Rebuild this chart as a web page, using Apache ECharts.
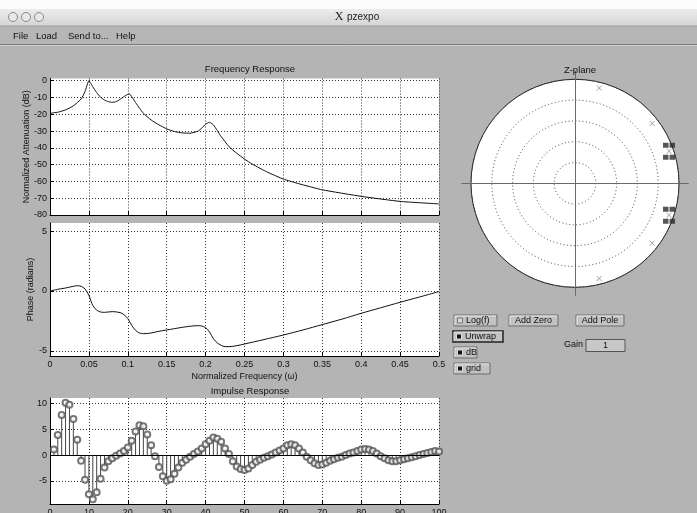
<!DOCTYPE html>
<html><head><meta charset="utf-8">
<script src="https://cdn.jsdelivr.net/npm/echarts@6/dist/echarts.min.js"></script>
<style>html,body{margin:0;padding:0;background:#b4b4b4}#c{width:697px;height:513px}</style>
</head><body><div id="c"></div>
<script>
// ---------- data ----------
const freqF = [0,0.01,0.02,0.03,0.04,0.045,0.05,0.055,0.06,0.065,0.07,0.075,0.08,0.085,0.09,0.095,0.1,0.102,0.105,0.11,0.115,0.12,0.13,0.14,0.15,0.16,0.17,0.18,0.19,0.195,0.2,0.205,0.21,0.215,0.22,0.23,0.24,0.25,0.26,0.28,0.3,0.32,0.35,0.4,0.45,0.5];
const magDb = [-19.4,-18.8,-17.4,-15,-10.9,-6.5,0,-3.6,-7.1,-9.9,-11.5,-12.5,-12.9,-12.5,-11.1,-9.5,-8.1,-7.8,-9.5,-13,-16.4,-19.4,-23.4,-26.3,-28.7,-30.3,-31.1,-31.3,-30.1,-28.3,-25.9,-24.8,-26.3,-29.7,-33.3,-39.2,-43.2,-46.7,-49.7,-54.6,-58.6,-61.4,-65,-68.9,-71.9,-73.4];
const phaseF = [0,0.01,0.02,0.03,0.035,0.04,0.045,0.05,0.053,0.055,0.06,0.065,0.07,0.08,0.09,0.095,0.1,0.105,0.11,0.115,0.12,0.13,0.14,0.15,0.16,0.17,0.18,0.19,0.195,0.2,0.205,0.21,0.215,0.22,0.225,0.23,0.24,0.25,0.275,0.3,0.325,0.35,0.375,0.4,0.425,0.45,0.475,0.5];
const phaseRad = [0,0.14,0.25,0.39,0.44,0.39,0.17,-0.36,-0.9,-1.2,-1.6,-1.75,-1.78,-1.72,-1.8,-1.97,-2.3,-2.86,-3.28,-3.5,-3.56,-3.5,-3.36,-3.25,-3.14,-3.03,-2.94,-2.89,-2.92,-3.06,-3.42,-3.97,-4.33,-4.53,-4.64,-4.64,-4.56,-4.42,-4.05,-3.67,-3.25,-2.8,-2.35,-1.86,-1.4,-0.94,-0.5,-0.05];
const impulseStart = 1;
const impulseVals = [1.1,3.9,7.8,10.2,9.8,7.0,3.0,-1.1,-4.8,-7.6,-8.6,-7.2,-4.6,-2.4,-1.2,-0.6,-0.1,0.3,0.8,1.5,2.8,4.6,5.8,5.6,4.0,1.9,-0.2,-2.3,-4.1,-5.0,-4.7,-3.6,-2.4,-1.5,-0.9,-0.3,0.2,0.7,1.3,2.1,2.8,3.4,3.2,2.6,1.3,0.2,-1.2,-2.2,-2.7,-2.9,-2.6,-1.9,-1.3,-0.9,-0.5,-0.2,0.1,0.5,0.9,1.3,1.9,2.1,1.9,1.3,0.5,-0.3,-1.0,-1.6,-1.9,-1.8,-1.5,-1.1,-0.8,-0.5,-0.3,0.0,0.3,0.5,0.8,1.1,1.2,1.1,0.8,0.3,-0.2,-0.6,-1.0,-1.2,-1.2,-1.0,-0.8,-0.6,-0.4,-0.2,0.0,0.2,0.4,0.6,0.8,0.7];
const poleRadius = [0.955,0.94,0.945,0.955,0.94,0.945];
const poleAngle = [18.8,37.8,75.7,-18.8,-37.8,-75.7];
const selectedRadius = [0.955,0.955];
const selectedAngle = [18.8,-18.8];
const freqTicks = [0,0.05,0.1,0.15,0.2,0.25,0.3,0.35,0.4,0.45,0.5];
const magTicks = [-80,-70,-60,-50,-40,-30,-20,-10,0];
const phaseTicks = [-5,0,5];
const impXTicks = [0,10,20,30,40,50,60,70,80,90,100];
const impYTicks = [-5,0,5,10];

// ---------- styles ----------
const FONT = 'Liberation Sans';
const txt = {fontFamily: FONT, fontSize: 9, color: '#111'};
const dotted = {color: '#333', type: [1, 2], width: 1};

function xAx(grid, min, max, ticks, showLabels, extra) {
  return Object.assign({
    type: 'value', gridIndex: grid, min: min, max: max,
    axisLine: {show: true, onZero: false, lineStyle: {color: '#000', width: 1}},
    axisTick: {show: true, inside: true, length: 4, customValues: ticks, lineStyle: {color: '#000'}},
    axisLabel: {show: showLabels, customValues: ticks, margin: 4, fontFamily: FONT, fontSize: 9, color: '#111'},
    splitLine: {show: true, lineStyle: dotted}
  }, extra || {});
}
function yAx(grid, min, max, ticks, extra) {
  return Object.assign({
    type: 'value', gridIndex: grid, min: min, max: max,
    axisLine: {show: true, onZero: false, lineStyle: {color: '#000', width: 1}},
    axisTick: {show: true, inside: true, length: 4, customValues: ticks, lineStyle: {color: '#000'}},
    axisLabel: {show: true, customValues: ticks, margin: 3, fontFamily: FONT, fontSize: 9, color: '#111'},
    splitLine: {show: true, lineStyle: dotted}
  }, extra || {});
}

function button(x, y, w, h, label, opts) {
  opts = opts || {};
  const ch = [
    {type: 'rect', shape: {x: x, y: y, width: w, height: h}, style: {fill: '#c2c2c2', stroke: opts.focus ? '#222' : '#6c6c6c', lineWidth: opts.focus ? 1.5 : 1}},
    {type: 'polyline', shape: {points: [[x + 1, y + h - 1], [x + 1, y + 1], [x + w - 1, y + 1]]}, style: {stroke: '#e6e6e6', lineWidth: 1, fill: null}}
  ];
  let tx = x + w / 2, align = 'center';
  if (opts.check !== undefined) {
    ch.push({type: 'rect', shape: {x: x + 3.5, y: y + h / 2 - 2.5, width: 5, height: 5},
      style: {fill: opts.check ? '#111' : '#d8d8d8', stroke: opts.check ? '#e0e0e0' : '#777', lineWidth: 1}});
    tx = x + 12; align = 'left';
  }
  ch.push({type: 'text', style: {x: tx, y: y + h / 2, text: label, align: align, verticalAlign: 'middle', fontFamily: FONT, fontSize: 9, fill: '#111'}});
  return {type: 'group', children: ch};
}

const graphics = [
  {type: 'rect', shape: {x: 0, y: 0, width: 697, height: 9}, style: {fill: '#fbfbfb'}, z: -10},
  {type: 'rect', shape: {x: 0, y: 9, width: 697, height: 17}, style: {fill: new echarts.graphic.LinearGradient(0, 0, 0, 1, [{offset: 0, color: '#ececec'}, {offset: 1, color: '#d4d4d4'}])}, z: -10},
  {type: 'rect', shape: {x: 0, y: 26, width: 697, height: 18}, style: {fill: '#b6b6b6'}, z: -10},
  {type: 'line', shape: {x1: 0, y1: 26, x2: 697, y2: 26}, style: {stroke: '#9a9a9a', lineWidth: 1}},
  {type: 'line', shape: {x1: 0, y1: 44.5, x2: 697, y2: 44.5}, style: {stroke: '#7c7c7c', lineWidth: 1}},
  {type: 'line', shape: {x1: 0, y1: 45.5, x2: 697, y2: 45.5}, style: {stroke: '#cfcfcf', lineWidth: 1}},
  {type: 'circle', shape: {cx: 13, cy: 17, r: 4.5}, style: {fill: '#e8e8e8', stroke: '#8a8a8a', lineWidth: 1}},
  {type: 'circle', shape: {cx: 26, cy: 17, r: 4.5}, style: {fill: '#e8e8e8', stroke: '#8a8a8a', lineWidth: 1}},
  {type: 'circle', shape: {cx: 39, cy: 17, r: 4.5}, style: {fill: '#e8e8e8', stroke: '#8a8a8a', lineWidth: 1}},
  {type: 'text', style: {x: 339, y: 17, text: 'X', align: 'center', verticalAlign: 'middle', fontFamily: 'Liberation Serif', fontSize: 12, fill: '#222'}},
  {type: 'text', style: {x: 347, y: 17, text: 'pzexpo', align: 'left', verticalAlign: 'middle', fontFamily: FONT, fontSize: 10, fill: '#222'}},
  {type: 'text', style: {x: 13, y: 36, text: 'File', verticalAlign: 'middle', fontFamily: FONT, fontSize: 9.5, fill: '#111'}},
  {type: 'text', style: {x: 36, y: 36, text: 'Load', verticalAlign: 'middle', fontFamily: FONT, fontSize: 9.5, fill: '#111'}},
  {type: 'text', style: {x: 68, y: 36, text: 'Send to...', verticalAlign: 'middle', fontFamily: FONT, fontSize: 9.5, fill: '#111'}},
  {type: 'text', style: {x: 116, y: 36, text: 'Help', verticalAlign: 'middle', fontFamily: FONT, fontSize: 9.5, fill: '#111'}},
  button(454, 315, 43, 11, 'Log(f)', {check: false}),
  button(509, 315, 49, 11, 'Add Zero'),
  button(576, 315, 48, 11, 'Add Pole'),
  button(453, 331, 50, 11, 'Unwrap', {check: true, focus: true}),
  button(454, 347, 23, 11, 'dB', {check: true}),
  button(454, 363, 36, 11, 'grid', {check: true}),
  {type: 'text', style: {x: 564, y: 345, text: 'Gain', verticalAlign: 'middle', fontFamily: FONT, fontSize: 9, fill: '#111'}},
  {type: 'rect', shape: {x: 586, y: 339.5, width: 39, height: 12}, style: {fill: '#c8c8c8', stroke: '#555', lineWidth: 1}},
  {type: 'text', style: {x: 605.5, y: 345.5, text: '1', align: 'center', verticalAlign: 'middle', fontFamily: FONT, fontSize: 9, fill: '#111'}}
];

const chart = echarts.init(document.getElementById('c'), null, {renderer: 'canvas'});
const option = {
  backgroundColor: '#b4b4b4',
  animation: false,
  textStyle: {fontFamily: FONT},
  title: [
    {text: 'Frequency Response', left: 245, top: 59, textAlign: 'center', textStyle: Object.assign({fontWeight: 'normal'}, txt, {fontSize: 9.5})},
    {text: 'Impulse Response', left: 245, top: 381, textAlign: 'center', textStyle: Object.assign({fontWeight: 'normal'}, txt, {fontSize: 9.5})},
    {text: 'Z-plane', left: 575, top: 60, textAlign: 'center', textStyle: Object.assign({fontWeight: 'normal'}, txt, {fontSize: 9.5})}
  ],
  grid: [
    {left: 50, top: 78.5, width: 389, height: 136.5, backgroundColor: '#fff', show: true, borderWidth: 0, outerBoundsMode: 'none', containLabel: false},
    {left: 50, top: 223, width: 389, height: 133, backgroundColor: '#fff', show: true, borderWidth: 0, outerBoundsMode: 'none', containLabel: false},
    {left: 50, top: 398, width: 389, height: 106, backgroundColor: '#fff', show: true, borderWidth: 0, outerBoundsMode: 'none', containLabel: false},
    {left: 461.7, top: 71.3, width: 226.6, height: 224, show: false, outerBoundsMode: 'none', containLabel: false}
  ],
  polar: {center: [575, 183.3], radius: 104},
  angleAxis: {type: 'value', min: 0, max: 360, interval: 90, startAngle: 0, clockwise: false, z: 1,
    axisLine: {show: true, lineStyle: {color: '#222', width: 1}}, axisTick: {show: false}, axisLabel: {show: false}, splitLine: {show: false},
    splitArea: {show: true, areaStyle: {color: ['#ffffff']}}},
  radiusAxis: {type: 'value', min: 0, max: 1, interval: 0.2, z: 2,
    axisLine: {show: false}, axisTick: {show: false}, axisLabel: {show: false},
    splitLine: {show: true, lineStyle: {color: '#444', type: [1, 2.5], width: 1}},
    splitArea: {show: false}},
  xAxis: [
    xAx(0, 0, 0.5, freqTicks, false),
    xAx(1, 0, 0.5, freqTicks, true, {name: 'Normalized Frequency (\u03c9)', nameLocation: 'middle', nameGap: 16, nameMoveOverlap: false, nameTextStyle: txt}),
    xAx(2, 0, 100, impXTicks, true, {axisLabel: {show: true, customValues: impXTicks, margin: 4, fontFamily: FONT, fontSize: 9, color: '#111'}}),
    {type: 'value', gridIndex: 3, min: -1.1, max: 1.1, z: 4, axisLine: {show: true, onZero: true, lineStyle: {color: '#6a6a6a', width: 1}}, axisTick: {show: false}, axisLabel: {show: false}, splitLine: {show: false}}
  ],
  yAxis: [
    yAx(0, -80, 1.3, magTicks, {name: 'Normalized Attenuation (dB)', nameLocation: 'middle', nameGap: 19, nameMoveOverlap: false, nameTextStyle: txt}),
    yAx(1, -5.42, 5.67, phaseTicks, {name: 'Phase (radians)', nameLocation: 'middle', nameGap: 15, nameMoveOverlap: false, nameTextStyle: txt}),
    yAx(2, -9.5, 11.1, impYTicks),
    {type: 'value', gridIndex: 3, min: -1.07, max: 1.07, z: 4, axisLine: {show: true, onZero: true, lineStyle: {color: '#6a6a6a', width: 1}}, axisTick: {show: false}, axisLabel: {show: false}, splitLine: {show: false}}
  ],
  series: [
    {type: 'line', xAxisIndex: 0, yAxisIndex: 0, data: freqF.map((f, i) => [f, magDb[i]]), symbol: 'none', smooth: 0.15, lineStyle: {color: '#111', width: 1}},
    {type: 'line', xAxisIndex: 1, yAxisIndex: 1, data: phaseF.map((f, i) => [f, phaseRad[i]]), symbol: 'none', smooth: 0.3, lineStyle: {color: '#111', width: 1}},
    {type: 'bar', xAxisIndex: 2, yAxisIndex: 2, data: impulseVals.map((v, i) => [impulseStart + i, v]), barWidth: 1, itemStyle: {color: '#444'},
      markLine: {silent: true, symbol: 'none', label: {show: false}, lineStyle: {color: '#000', type: 'solid', width: 1}, data: [{yAxis: 0}]}},
    {type: 'scatter', xAxisIndex: 2, yAxisIndex: 2, data: impulseVals.map((v, i) => [impulseStart + i, v]), symbol: 'emptyCircle', symbolSize: 6, itemStyle: {color: '#555', borderWidth: 1}, z: 3},
    {type: 'scatter', coordinateSystem: 'polar', data: poleRadius.map((r, i) => [r, poleAngle[i]]), symbol: 'path://M0,0L10,10M10,0L0,10', symbolSize: 5,
      itemStyle: {color: 'rgba(0,0,0,0)', borderColor: '#8a8a8a', borderWidth: 1}, z: 6},
    {type: 'scatter', coordinateSystem: 'polar', data: selectedRadius.map((r, i) => [r, selectedAngle[i]]),
      symbol: 'path://M0,0h5.5v5h-5.5zM6.5,0h5.5v5h-5.5zM0,12h5.5v5h-5.5zM6.5,12h5.5v5h-5.5z', symbolSize: [12, 17], itemStyle: {color: '#2a2a2a'}, z: 5}
  ],
  graphic: graphics
};
chart.setOption(option);
</script></body></html>
